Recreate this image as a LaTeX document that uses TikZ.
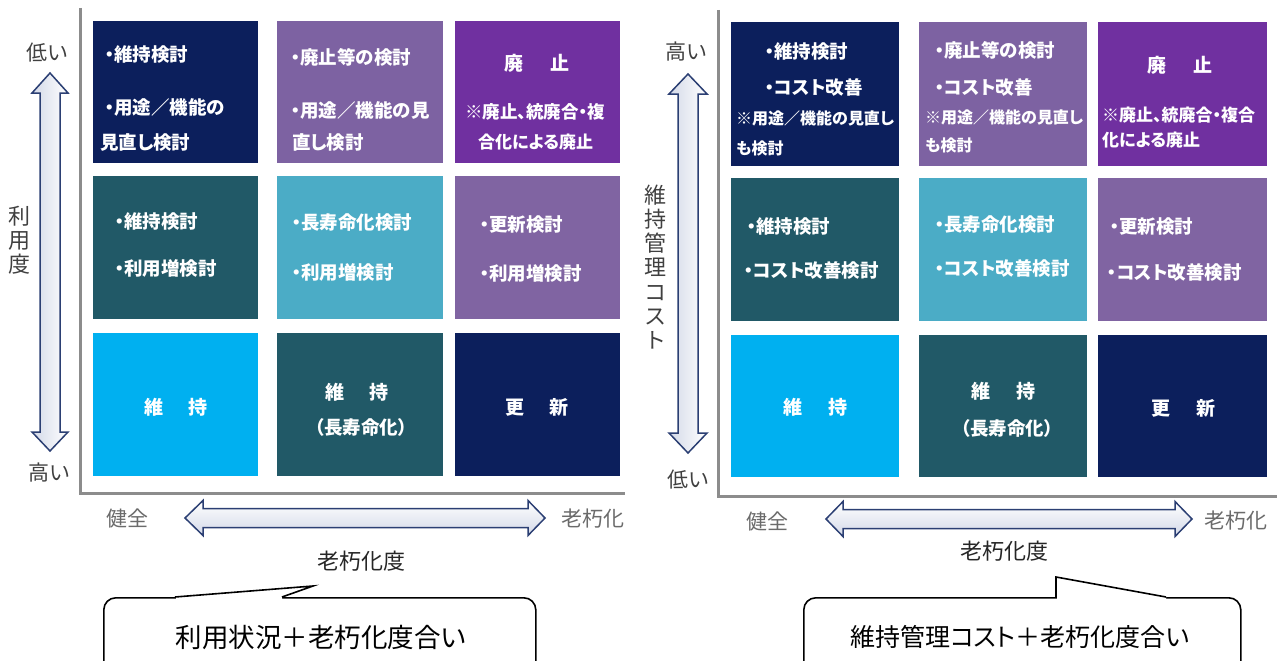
\documentclass[tikz,border=0pt]{standalone}
\usepackage{fontspec}
\setmainfont{Noto Sans CJK JP}
\newfontfamily\bxf{Noto Sans CJK JP}[RawFeature=+palt]
\definecolor{cNavy}{HTML}{0C1F5C}
\definecolor{cPurA}{HTML}{7D62A2}
\definecolor{cViol}{HTML}{7030A0}
\definecolor{cTeal}{HTML}{215967}
\definecolor{cLTeal}{HTML}{4BACC6}
\definecolor{cPurB}{HTML}{8064A2}
\definecolor{cCyan}{HTML}{00B0F0}
\definecolor{cAxis}{HTML}{8C8C8C}
\definecolor{cArr}{HTML}{2B3F73}
\definecolor{cArrIn}{HTML}{D3D9E8}
\definecolor{cLab}{HTML}{404040}
\definecolor{cLabL}{HTML}{6B6B6B}
\begin{document}
\begin{tikzpicture}[x=1pt,y=-1pt,
  cell/.style={fill=#1,draw=none,inner sep=0pt,anchor=north west},
  bt/.style={text=white,inner sep=0pt,anchor=west,font=\bxf\bfseries\fontsize{18.5}{20}\selectfont},
  btc/.style={bt,anchor=center},
  nt/.style={text=white,inner sep=0pt,anchor=west,font=\bxf\bfseries\fontsize{16}{18}\selectfont},
  big/.style={text=white,inner sep=0pt,anchor=center,font=\bxf\bfseries\fontsize{19}{20}\selectfont},
  axis/.style={draw=cAxis,line width=3pt},
  varrow/.style={draw=cArr,line width=1.5pt,left color=cArrIn,right color=white},
  harrow/.style={draw=cArr,line width=1.5pt,bottom color=cArrIn,top color=white},
  lab/.style={text=cLab,inner sep=0pt,font=\fontsize{21}{22}\selectfont},
  labl/.style={text=cLabL,inner sep=0pt,font=\fontsize{21}{22}\selectfont},
  vlab/.style={text=cLab,inner sep=0pt,align=center,font=\fontsize{22}{24.2}\selectfont},
  ttl/.style={text=black!85,inner sep=0pt,font=\fontsize{22}{24}\selectfont},
  callbox/.style={draw=black,line width=1.6pt,fill=white,rounded corners=12pt,inner sep=0pt,anchor=north west},
  calltxt/.style={text=black,inner sep=0pt,font=\bxf\fontsize{25}{26}\selectfont}]
\useasboundingbox (0,0) rectangle (1277,661);
\clip (0,0) rectangle (1277,661);

% ================= LEFT PANEL =================
\draw[axis] (80,8) coordinate (LA0) -- (80,493) coordinate (LA1) -- (625,493) coordinate (LA2);

\node[cell=cNavy, minimum width=165pt,minimum height=142pt] (L11) at (93,21) {};
\node[cell=cPurA, minimum width=166pt,minimum height=142pt] (L12) at (277,21) {};
\node[cell=cViol, minimum width=165pt,minimum height=142pt] (L13) at (455,21) {};
\node[cell=cTeal, minimum width=165pt,minimum height=143pt] (L21) at (93,176) {};
\node[cell=cLTeal,minimum width=166pt,minimum height=143pt] (L22) at (277,176) {};
\node[cell=cPurB, minimum width=165pt,minimum height=143pt] (L23) at (455,176) {};
\node[cell=cCyan, minimum width=165pt,minimum height=143pt] (L31) at (93,333) {};
\node[cell=cTeal, minimum width=166pt,minimum height=143pt] (L32) at (277,333) {};
\node[cell=cNavy, minimum width=165pt,minimum height=143pt] (L33) at (455,333) {};

\node[bt] (L11a) at (105,55) {・維持検討};
\node[bt] (L11b) at (105,107) {・用途／機能の};
\node[bt] (L11c) at (100,142) {見直し検討};
\node[bt] (L12a) at (291,57) {・廃止等の検討};
\node[bt] (L12b) at (291,110) {・用途／機能の見};
\node[bt] (L12c) at (292,142) {直し検討};
\node[big] (L13a) at (537,63) {廃\hspace{27pt}止};
\node[nt,font=\bxf\bfseries\fontsize{17.5}{18}\selectfont] (L13b) at (465,112) {※廃止、統廃合・複};
\node[nt,font=\bxf\bfseries\fontsize{17}{18}\selectfont] (L13c) at (478,142) {合化による廃止};
\node[bt] (L21a) at (115,222) {・維持検討};
\node[bt] (L21b) at (115,268) {・利用増検討};
\node[bt] (L22a) at (292,223) {・長寿命化検討};
\node[bt] (L22b) at (292,272) {・利用増検討};
\node[bt] (L23a) at (480,225) {・更新検討};
\node[bt] (L23b) at (480,273) {・利用増検討};
\node[big] (L31a) at (176,407) {維\hspace{26pt}持};
\node[big] (L32a) at (357,392) {維\hspace{26pt}持};
\node[btc] (L32b) at (361,427) {（長寿命化）};
\node[big] (L33a) at (537,407) {更\hspace{26pt}新};

\path[varrow] (50,73) -- (68,93) -- (60,93) -- (60,432) -- (68,432) -- (50,451)
  -- (32,432) -- (40,432) -- (40,93) -- (32,93) -- cycle;
\path[harrow] (185,518) -- (203,500.5) -- (203,508.5) -- (528,508.5) -- (528,500.5) -- (545,518)
  -- (528,535.5) -- (528,527.5) -- (203,527.5) -- (203,535.5) -- cycle;

\node[lab] (Llow) at (48,53) {低い};
\node[lab] (Lhigh) at (49,473) {高い};
\node[vlab] (Lvl) at (20,240) {利\\用\\度};
\node[labl] (Lgood) at (127,518) {健全};
\node[labl] (Lold) at (593,519) {老朽化};
\node[ttl] (Lttl) at (361,561) {老朽化度};

\node[callbox,minimum width=432pt,minimum height=110pt] (CB1) at (103,597) {};
\fill[white] (176,599) -- (176,597) -- (313,586) -- (282,597) -- (282,599) -- cycle;
\draw[black,line width=1.6pt,line join=miter] (175,597) coordinate (P1a) -- (313,586) coordinate (P1b) -- (282,597) coordinate (P1c);
\node[calltxt,font=\bxf\fontsize{26.5}{28}\selectfont] (CT1) at (321,637) {利用状況＋老朽化度合い};

% ================= RIGHT PANEL =================
\draw[axis] (718,10) coordinate (RA0) -- (718,496) coordinate (RA1) -- (1277,496) coordinate (RA2);

\node[cell=cNavy, minimum width=168pt,minimum height=144pt] (R11) at (731,22) {};
\node[cell=cPurA, minimum width=168pt,minimum height=144pt] (R12) at (919,22) {};
\node[cell=cViol, minimum width=169pt,minimum height=144pt] (R13) at (1098,22) {};
\node[cell=cTeal, minimum width=168pt,minimum height=143pt] (R21) at (731,178) {};
\node[cell=cLTeal,minimum width=168pt,minimum height=143pt] (R22) at (919,178) {};
\node[cell=cPurB, minimum width=169pt,minimum height=143pt] (R23) at (1098,178) {};
\node[cell=cCyan, minimum width=168pt,minimum height=142pt] (R31) at (731,335) {};
\node[cell=cTeal, minimum width=168pt,minimum height=142pt] (R32) at (919,335) {};
\node[cell=cNavy, minimum width=169pt,minimum height=142pt] (R33) at (1098,335) {};

\node[bt] (R11a) at (765,52) {・維持検討};
\node[bt] (R11b) at (765,87) {・コスト改善};
\node[nt] (R11c) at (736,118) {※用途／機能の見直し};
\node[nt] (R11d) at (736,148) {も検討};
\node[bt] (R12a) at (935,50) {・廃止等の検討};
\node[bt] (R12b) at (935,87) {・コスト改善};
\node[nt] (R12c) at (925,117) {※用途／機能の見直し};
\node[nt] (R12d) at (925,145) {も検討};
\node[big] (R13a) at (1180,65) {廃\hspace{27pt}止};
\node[nt,font=\bxf\bfseries\fontsize{17}{18}\selectfont] (R13b) at (1102,115) {※廃止、統廃合・複合};
\node[nt,font=\bxf\bfseries\fontsize{17}{18}\selectfont] (R13c) at (1102,140) {化による廃止};
\node[bt] (R21a) at (747,227) {・維持検討};
\node[bt] (R21b) at (744,270) {・コスト改善検討};
\node[bt] (R22a) at (935,225) {・長寿命化検討};
\node[bt] (R22b) at (935,268) {・コスト改善検討};
\node[bt] (R23a) at (1110,227) {・更新検討};
\node[bt] (R23b) at (1107,272) {・コスト改善検討};
\node[big] (R31a) at (815,407) {維\hspace{26pt}持};
\node[big] (R32a) at (1003,391) {維\hspace{26pt}持};
\node[btc] (R32b) at (1007,428) {（長寿命化）};
\node[big] (R33a) at (1183,408) {更\hspace{26pt}新};

\path[varrow] (688,74) -- (707,94) -- (698,94) -- (698,433) -- (707,433) -- (688,453)
  -- (669,433) -- (678,433) -- (678,94) -- (669,94) -- cycle;
\path[harrow] (826,519) -- (843,501.5) -- (843,509.5) -- (1175,509.5) -- (1175,501.5) -- (1192,519)
  -- (1175,536.5) -- (1175,528.5) -- (843,528.5) -- (843,536.5) -- cycle;

\node[lab] (Rhigh) at (686,52) {高い};
\node[lab] (Rlow) at (688,480) {低い};
\node[vlab] (Rvl) at (655,267) {維\\持\\管\\理\\コ\\ス\\ト};
\node[labl] (Rgood) at (767,521) {健全};
\node[labl] (Rold) at (1236,521) {老朽化};
\node[ttl] (Rttl) at (1004,551) {老朽化度};

\node[callbox,minimum width=437pt,minimum height=110pt] (CB2) at (803,597) {};
\fill[white] (1057,599) -- (1057,577) -- (1166,597) -- (1166,599) -- cycle;
\draw[black,line width=1.6pt,line join=miter] (1056,597.8) coordinate (P2a) -- (1056,577) coordinate (P2b) -- (1166,597) coordinate (P2c);
\node[calltxt] (CT2) at (1020,637) {維持管理コスト＋老朽化度合い};
\end{tikzpicture}
\end{document}
